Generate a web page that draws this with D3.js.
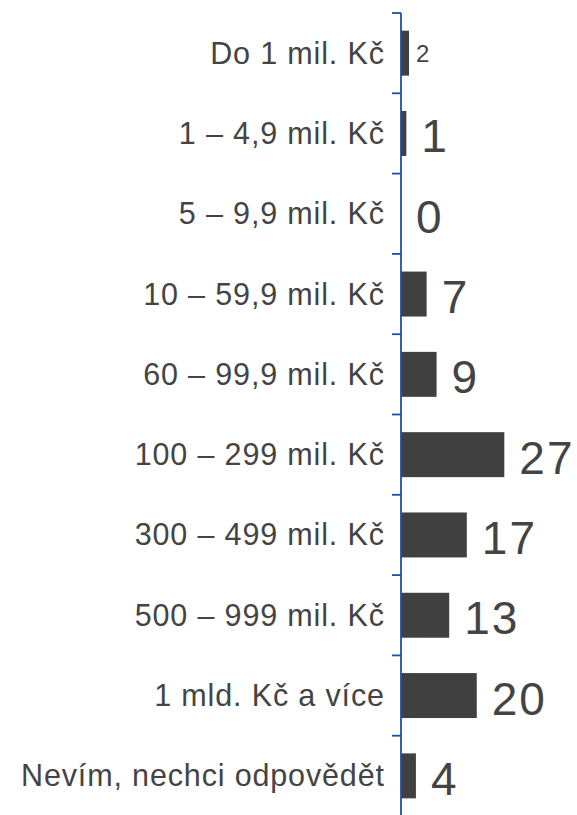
<!DOCTYPE html>
<html>
<head>
<meta charset="utf-8">
<script src="https://cdn.jsdelivr.net/npm/d3@7"></script>
<style>
  body { margin: 0; background: #fff; }
  svg { display: block; }
</style>
</head>
<body>
<div class="container"></div>
<script>
var categories = [
  "Do 1 mil. Kč",
  "1 – 4,9 mil. Kč",
  "5 – 9,9 mil. Kč",
  "10 – 59,9 mil. Kč",
  "60 – 99,9 mil. Kč",
  "100 – 299 mil. Kč",
  "300 – 499 mil. Kč",
  "500 – 999 mil. Kč",
  "1 mld. Kč a více",
  "Nevím, nechci odpovědět"
];
// bar lengths (labels are the rounded values)
var values = [2.1, 1.4, 0, 6.7, 9.3, 27, 17.2, 12.6, 19.8, 3.9];
var labels = ["2", "1", "0", "7", "9", "27", "17", "13", "20", "4"];

var width = 577, height = 815;
var axisX = 401, topY = 13, step = 80.3;

var svg = d3.select('.container').append('svg')
  .attr("width", width)
  .attr("height", height);

var y = d3.scaleBand()
  .domain(categories)
  .range([topY, topY + step * categories.length])
  .paddingInner(0.44)
  .paddingOuter(0.22);

var x = d3.scaleLinear()
  .domain([0, 27])
  .range([axisX, axisX + 103.3]);

var rows = categories.map(function(c, i){
  return { cat: c, value: values[i], label: labels[i], idx: i };
});

svg.selectAll("rect.bar")
  .data(rows)
  .enter().append("rect")
  .attr("class", "bar")
  .attr("x", x(0))
  .attr("y", function(d) { return y(d.cat); })
  .attr("width", function(d) { return x(d.value) - x(0); })
  .attr("height", y.bandwidth())
  .attr("fill", "#404040");

// category labels
svg.selectAll("text.cat")
  .data(rows)
  .enter().append("text")
  .attr("class", "cat")
  .attr("x", 384.8)
  .attr("y", function(d) { return y(d.cat) + y.bandwidth() / 2 + 10.5; })
  .attr("text-anchor", "end")
  .attr("font-family", "'Liberation Sans', Arial, sans-serif")
  .attr("font-size", 30.5)
  .attr("letter-spacing", 0.85)
  .attr("fill", "#444")
  .text(function(d) { return d.cat; });

// value labels, the first one is drawn small like in the source
svg.selectAll("text.val")
  .data(rows)
  .enter().append("text")
  .attr("class", "val")
  .attr("x", function(d) { return x(d.value) + (d.idx === 0 ? 7 : 15); })
  .attr("y", function(d) {
    return y(d.cat) + y.bandwidth() / 2 + (d.idx === 0 ? 9 : 19);
  })
  .attr("font-family", "'Liberation Sans', Arial, sans-serif")
  .attr("font-size", function(d) { return d.idx === 0 ? 24 : 46; })
  .attr("letter-spacing", function(d) { return d.idx === 0 ? 0 : 2; })
  .attr("fill", "#444")
  .text(function(d) { return d.label; });

// axis line with ticks at the band borders
var pad = y.step() * y.paddingInner() / 2;
var tickYs = categories.map(function(c) { return y(c) - pad; });
tickYs.push(y(categories[categories.length - 1]) + y.bandwidth() + pad);

svg.append("line")
  .attr("x1", axisX).attr("x2", axisX)
  .attr("y1", tickYs[0]).attr("y2", tickYs[tickYs.length - 1])
  .attr("stroke", "#1f4db0")
  .attr("stroke-width", 1.8);

svg.selectAll("line.tick")
  .data(tickYs)
  .enter().append("line")
  .attr("class", "tick")
  .attr("x1", axisX - 9).attr("x2", axisX)
  .attr("y1", function(d) { return d; })
  .attr("y2", function(d) { return d; })
  .attr("stroke", "#1f4db0")
  .attr("stroke-width", 1.8);
</script>
</body>
</html>
